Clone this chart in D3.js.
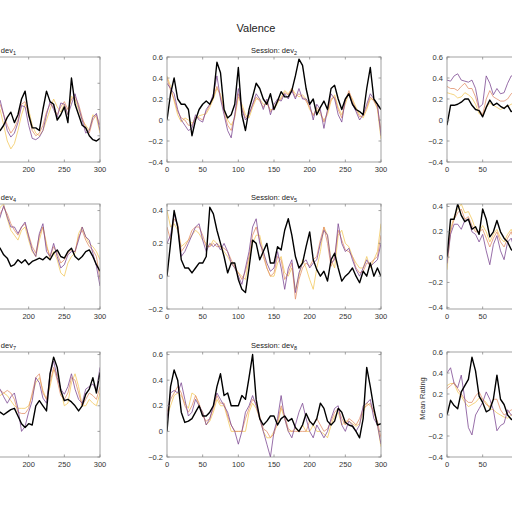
<!DOCTYPE html>
<meta charset="utf-8">
<style>
body { margin: 0; background: #fff; }
svg { font-family: "Liberation Sans", Arial, sans-serif; }
.tick-label { font-size: 7.5px; fill: #333; }
.title { font-size: 7.5px; fill: #222; }
</style>
<body>
<script src="https://d3js.org/d3.v7.min.js"></script>
<script>

// sample positions (time axis)
var xFull = [0,5,10,15,20,25,30,35,40,45,50,55,60,65,70,75,80,85,90,95,100,105,110,115,120,125,130,135,140,145,150,155,160,165,170,175,180,185,190,195,200,205,210,215,220,225,230,235,240,245,250,255,260,265,270,275,280,285,290,295,300];
var xLeft = [155,160,165,170,175,180,185,190,195,200,205,210,215,220,225,230,235,240,245,250,255,260,265,270,275,280,285,290,295,300];
var xRight = [0,5,10,15,20,25,30,35,40,45,50,55,60,65,70,75,80,85,90,95];
var xTicks = [0,50,100,150,200,250,300];

// dev1 (only right part visible)
var dev1Black = [-0.18,-0.16,-0.12,-0.06,-0.02,-0.1,-0.04,0.08,0.14,-0.04,-0.14,-0.14,-0.16,0.0,0.14,0.06,0.04,-0.08,-0.04,0.02,-0.1,0.24,0.04,-0.04,-0.12,-0.14,-0.2,-0.23,-0.24,-0.22];
var dev1Purple = [0.04,0.07,-0.04,-0.16,-0.21,-0.18,-0.1,0.03,0.02,-0.12,-0.22,-0.23,-0.21,-0.16,-0.04,0.06,0.0,-0.06,0.05,0.04,-0.04,0.04,0.12,0.02,-0.08,-0.18,-0.16,-0.06,-0.03,-0.16];
var dev1Orange = [0.08,0.04,-0.04,-0.12,-0.18,-0.14,-0.08,0.04,0.06,-0.04,-0.16,-0.2,-0.18,-0.12,-0.02,0.04,0.02,-0.04,0.02,0.06,0.0,0.08,0.1,0.04,-0.06,-0.14,-0.18,-0.08,-0.04,-0.12];
var dev1Yellow = [0.02,0.0,-0.12,-0.24,-0.3,-0.26,-0.16,-0.04,0.04,0.0,-0.12,-0.18,-0.2,-0.16,-0.08,0.0,0.08,0.02,-0.02,0.04,-0.04,0.1,0.08,0.0,-0.08,-0.12,-0.16,-0.04,-0.06,-0.18];

// dev2
var dev2Black = [0.0,0.25,0.4,0.2,0.15,0.15,0.1,-0.15,0.0,0.1,0.15,0.18,0.15,0.22,0.55,0.45,0.1,0.02,0.05,0.15,0.5,0.05,-0.1,0.1,0.22,0.35,0.3,0.2,0.15,0.25,0.1,0.18,0.27,0.22,0.22,0.28,0.42,0.58,0.52,0.3,0.15,0.2,0.05,0.12,0.18,0.1,0.3,0.33,0.2,0.1,0.2,0.25,0.15,0.1,0.08,0.05,0.3,0.5,0.2,0.15,0.1];
var dev2Purple = [0.35,0.3,0.25,0.1,0.0,-0.05,-0.1,-0.08,0.05,0.0,-0.02,0.1,0.15,0.25,0.42,0.2,0.05,-0.1,-0.17,0.05,0.3,0.1,0.0,0.05,0.15,0.25,0.2,0.1,0.2,0.05,0.15,0.2,0.18,0.25,0.2,0.28,0.2,0.3,0.2,0.2,0.15,0.0,0.15,0.1,-0.08,0.1,0.25,0.2,0.05,-0.02,0.2,0.25,0.15,0.08,0.0,0.05,0.15,0.25,0.2,0.15,-0.15];
var dev2Orange = [0.4,0.28,0.2,0.08,0.02,0.0,-0.05,-0.05,0.03,0.02,0.0,0.08,0.14,0.22,0.32,0.22,0.08,-0.05,-0.1,0.04,0.25,0.12,0.02,0.06,0.14,0.22,0.18,0.12,0.18,0.08,0.12,0.18,0.2,0.26,0.24,0.3,0.22,0.25,0.22,0.18,0.12,0.04,0.12,0.08,-0.02,0.08,0.2,0.22,0.1,0.02,0.18,0.28,0.18,0.1,0.03,0.04,0.12,0.22,0.18,0.12,-0.1];
var dev2Yellow = [0.42,0.32,0.18,0.05,-0.02,0.02,0.0,-0.03,0.0,0.04,0.05,0.06,0.12,0.2,0.3,0.25,0.1,0.0,-0.05,0.02,0.22,0.15,0.05,0.02,0.12,0.2,0.2,0.15,0.15,0.1,0.1,0.16,0.22,0.28,0.25,0.3,0.25,0.22,0.24,0.2,0.1,0.05,0.1,0.05,0.0,0.05,0.18,0.24,0.12,0.05,0.15,0.26,0.2,0.12,0.05,0.02,0.1,0.2,0.2,0.1,-0.18];

// dev3 (only left part visible)
var dev3Black = [-0.05,0.14,0.14,0.15,0.17,0.2,0.2,0.14,0.1,0.09,0.03,0.12,0.19,0.14,0.16,0.13,0.11,0.14,0.08,0.09];
var dev3Purple = [0.38,0.37,0.42,0.44,0.38,0.37,0.36,0.38,0.3,0.12,0.15,0.42,0.35,0.24,0.3,0.25,0.26,0.35,0.42,0.42];
var dev3Orange = [0.32,0.3,0.3,0.28,0.32,0.35,0.3,0.3,0.22,0.1,0.05,0.2,0.28,0.22,0.2,0.18,0.18,0.2,0.25,0.28];
var dev3Yellow = [0.26,0.25,0.24,0.21,0.22,0.26,0.24,0.21,0.15,0.06,0.05,0.12,0.16,0.14,0.12,0.1,0.12,0.13,0.15,0.16];

// dev4
var dev4Black = [0.2,0.17,0.13,0.11,0.06,0.07,0.1,0.08,0.1,0.07,0.09,0.1,0.11,0.1,0.12,0.1,0.14,0.16,0.12,0.11,0.15,0.17,0.12,0.1,0.12,0.15,0.16,0.12,0.07,0.03];
var dev4Purple = [0.3,0.36,0.43,0.36,0.3,0.3,0.26,0.3,0.33,0.24,0.16,0.12,0.26,0.32,0.15,0.12,0.2,0.12,0.05,0.07,0.13,0.15,0.15,0.22,0.3,0.24,0.22,0.14,0.06,-0.06];
var dev4Orange = [0.32,0.38,0.42,0.38,0.32,0.28,0.25,0.3,0.32,0.25,0.18,0.14,0.25,0.3,0.18,0.12,0.18,0.14,0.08,0.1,0.14,0.16,0.15,0.24,0.28,0.22,0.18,0.16,0.12,-0.02];
var dev4Yellow = [0.35,0.42,0.44,0.35,0.28,0.25,0.22,0.28,0.3,0.22,0.15,0.12,0.22,0.3,0.2,0.1,0.15,0.1,0.02,0.0,0.08,0.12,0.14,0.26,0.3,0.24,0.2,0.18,0.15,0.1];

// dev5
var dev5Black = [0.0,0.2,0.4,0.3,0.1,0.05,0.05,0.02,0.05,0.08,0.08,0.12,0.42,0.38,0.28,0.2,0.12,0.02,0.08,0.08,-0.02,-0.08,-0.1,0.05,0.22,0.2,0.1,0.15,0.2,0.08,0.08,0.18,0.16,0.28,0.35,0.25,0.12,0.05,0.08,0.18,0.27,0.1,0.04,0.0,0.03,-0.03,0.1,0.14,0.05,-0.03,0.0,0.02,0.05,0.0,-0.04,0.03,0.0,0.08,0.0,0.05,0.0];
var dev5Purple = [0.2,0.25,0.38,0.3,0.12,0.15,0.2,0.25,0.3,0.32,0.22,0.15,0.2,0.18,0.2,0.16,0.2,0.15,0.08,0.05,0.0,-0.05,0.05,0.15,0.3,0.35,0.2,0.15,0.08,0.03,0.05,0.15,0.05,-0.08,0.05,0.1,-0.1,0.02,0.08,0.1,0.05,0.08,0.1,0.2,0.28,0.25,0.08,0.1,0.32,0.2,0.15,0.17,0.1,0.04,0.0,0.05,0.1,0.06,0.08,0.1,0.2];
var dev5Orange = [0.3,0.22,0.35,0.32,0.15,0.18,0.22,0.28,0.3,0.3,0.25,0.18,0.18,0.2,0.18,0.18,0.17,0.15,0.1,0.06,0.02,-0.02,0.03,0.12,0.25,0.3,0.22,0.12,0.05,0.0,0.02,0.12,0.1,-0.02,0.02,0.08,-0.14,-0.02,0.05,0.08,0.06,0.1,0.12,0.22,0.3,0.2,0.06,0.12,0.28,0.22,0.16,0.15,0.12,0.05,0.02,0.03,0.08,0.08,0.1,0.12,0.25];
var dev5Yellow = [0.4,0.3,0.32,0.28,0.18,0.2,0.22,0.25,0.28,0.26,0.22,0.2,0.18,0.22,0.2,0.18,0.15,0.12,0.08,0.05,0.02,0.0,-0.02,0.1,0.2,0.25,0.25,0.15,0.05,0.0,0.0,0.08,0.12,0.02,0.0,0.05,-0.08,0.0,0.1,0.05,-0.02,-0.08,0.05,0.15,0.3,0.25,0.1,0.05,0.25,0.28,0.2,0.18,0.12,0.08,0.05,0.05,0.12,0.05,0.1,0.15,0.32];

// dev6 (only left part visible)
var dev6Black = [0.0,0.3,0.3,0.42,0.33,0.28,0.3,0.22,0.24,0.18,0.38,0.3,0.16,0.2,0.29,0.2,0.15,0.12,0.06,0.04];
var dev6Purple = [-0.05,0.18,0.26,0.26,0.22,0.29,0.3,0.2,0.18,0.12,0.18,0.05,-0.06,0.1,0.17,0.05,-0.02,0.12,0.15,0.05];
var dev6Orange = [0.0,0.2,0.3,0.35,0.38,0.3,0.32,0.25,0.2,0.2,0.22,0.15,0.08,0.15,0.2,0.12,0.08,0.15,0.2,0.12];
var dev6Yellow = [-0.1,0.22,0.32,0.38,0.42,0.35,0.36,0.3,0.22,0.2,0.25,0.2,0.12,0.18,0.22,0.15,0.12,0.18,0.22,0.15];

// dev7 (only right part visible)
var dev7Black = [0.14,0.15,0.13,0.15,0.17,0.18,0.12,0.06,0.03,0.06,0.05,0.2,0.24,0.2,0.16,0.45,0.58,0.5,0.32,0.24,0.25,0.23,0.2,0.16,0.2,0.29,0.33,0.42,0.3,0.46];
var dev7Purple = [0.32,0.33,0.27,0.22,0.27,0.3,0.18,0.0,0.04,0.15,0.24,0.42,0.38,0.26,0.22,0.45,0.55,0.42,0.33,0.29,0.35,0.45,0.33,0.25,0.22,0.33,0.35,0.37,0.32,0.5];
var dev7Orange = [0.3,0.32,0.3,0.32,0.3,0.25,0.15,0.14,0.14,0.18,0.3,0.42,0.45,0.3,0.25,0.38,0.5,0.4,0.28,0.25,0.3,0.42,0.4,0.3,0.2,0.25,0.3,0.28,0.25,0.35];
var dev7Yellow = [0.25,0.28,0.3,0.28,0.24,0.2,0.18,0.18,0.18,0.2,0.28,0.38,0.42,0.32,0.25,0.35,0.48,0.45,0.32,0.2,0.22,0.38,0.45,0.35,0.2,0.2,0.25,0.22,0.2,0.3];

// dev8
var dev8Black = [0.0,0.35,0.48,0.4,0.15,0.07,0.08,0.1,0.15,0.2,0.12,0.12,0.15,0.2,0.35,0.45,0.28,0.3,0.2,0.2,0.2,0.28,0.25,0.42,0.6,0.25,0.1,0.05,0.08,0.12,0.12,0.05,0.1,0.12,0.08,0.1,0.03,0.0,0.05,0.14,0.08,0.05,0.1,0.22,0.18,0.08,0.05,0.08,0.18,0.15,0.07,0.05,0.04,0.0,-0.05,0.1,0.5,0.35,0.18,0.05,0.06];
var dev8Purple = [0.1,0.3,0.32,0.3,0.38,0.25,0.12,0.15,0.25,0.2,0.15,0.05,0.1,0.2,0.3,0.25,0.2,0.15,0.05,0.0,-0.1,0.0,0.15,0.2,0.28,0.2,0.1,0.0,-0.1,-0.2,0.0,0.1,0.28,0.1,0.0,-0.05,0.05,0.15,0.22,0.1,0.0,-0.05,0.05,0.0,-0.05,0.0,0.1,0.18,0.2,0.05,0.0,0.08,0.05,0.0,0.05,0.2,0.22,0.25,0.1,0.05,-0.1];
var dev8Orange = [0.15,0.25,0.3,0.35,0.3,0.2,0.15,0.2,0.28,0.22,0.12,0.08,0.1,0.18,0.28,0.22,0.22,0.12,0.05,0.0,0.0,0.0,0.1,0.18,0.25,0.22,0.12,0.02,0.0,-0.05,-0.02,0.08,0.2,0.12,0.02,0.0,0.0,0.0,0.0,0.0,0.08,0.05,0.1,0.05,0.0,0.02,0.08,0.15,0.18,0.1,0.05,0.1,0.08,0.05,0.1,0.18,0.2,0.22,0.15,0.08,-0.05];
var dev8Yellow = [0.12,0.2,0.28,0.3,0.28,0.22,0.18,0.3,0.28,0.2,0.15,0.05,0.08,0.15,0.25,0.2,0.2,0.1,0.0,0.0,0.0,0.0,0.0,0.15,0.22,0.18,0.1,0.0,-0.05,-0.05,0.0,0.05,0.18,0.1,0.0,0.0,0.02,0.0,0.05,0.0,0.0,0.05,0.0,0.0,-0.02,-0.05,0.05,0.12,0.15,0.05,0.08,0.08,0.06,0.04,0.06,0.15,0.22,0.2,0.15,0.05,-0.12];

// dev9 (only left part visible)
var dev9Black = [0.0,0.14,0.09,0.06,0.22,0.28,0.34,0.55,0.42,0.18,0.12,0.03,0.05,0.15,0.38,0.15,0.1,0.0,-0.04,-0.06];
var dev9Purple = [0.4,0.45,0.3,0.26,0.38,0.15,-0.12,-0.19,0.0,0.06,0.12,0.22,0.15,0.05,-0.15,-0.1,-0.08,0.05,0.0,-0.02];
var dev9Orange = [0.25,0.28,0.31,0.25,0.2,0.15,0.12,0.12,0.18,0.22,0.15,0.1,0.08,0.15,0.15,0.05,0.0,0.02,0.05,0.03];
var dev9Yellow = [0.28,0.3,0.3,0.22,0.18,0.12,0.08,0.1,0.12,0.16,0.15,0.12,0.06,0.05,0.02,0.0,-0.02,-0.03,0.0,0.02];

var colors = ["#f2c95f", "#e2926c", "#7e4a93", "#000000"];
var widths = [0.8, 0.8, 0.8, 1.4];

var colX = [-114, 167, 447],
    rowY = [57, 204, 352],
    axW = 214, axH = 105;

var panels = [
  {n: "1", c: 0, r: 0, x: xLeft,  dom: [-0.4, 0.4],   yt: [-0.4,-0.2,0,0.2,0.4],      s: [dev1Yellow, dev1Orange, dev1Purple, dev1Black]},
  {n: "2", c: 1, r: 0, x: xFull,  dom: [-0.4, 0.6],   yt: [-0.4,-0.2,0,0.2,0.4,0.6],  s: [dev2Yellow, dev2Orange, dev2Purple, dev2Black]},
  {n: "3", c: 2, r: 0, x: xRight, dom: [-0.4, 0.6],   yt: [-0.4,-0.2,0,0.2,0.4,0.6],  s: [dev3Yellow, dev3Orange, dev3Purple, dev3Black]},
  {n: "4", c: 0, r: 1, x: xLeft,  dom: [-0.2, 0.44],  yt: [-0.2,0,0.2,0.4],           s: [dev4Yellow, dev4Orange, dev4Purple, dev4Black]},
  {n: "5", c: 1, r: 1, x: xFull,  dom: [-0.2, 0.44],  yt: [-0.2,0,0.2,0.4],           s: [dev5Yellow, dev5Orange, dev5Purple, dev5Black]},
  {n: "6", c: 2, r: 1, x: xRight, dom: [-0.41, 0.42], yt: [-0.4,-0.2,0,0.2,0.4],      s: [dev6Yellow, dev6Orange, dev6Purple, dev6Black]},
  {n: "7", c: 0, r: 2, x: xLeft,  dom: [-0.2, 0.62],  yt: [-0.2,0,0.2,0.4,0.6],       s: [dev7Yellow, dev7Orange, dev7Purple, dev7Black]},
  {n: "8", c: 1, r: 2, x: xFull,  dom: [-0.2, 0.62],  yt: [-0.2,0,0.2,0.4,0.6],       s: [dev8Yellow, dev8Orange, dev8Purple, dev8Black]},
  {n: "9", c: 2, r: 2, x: xRight, dom: [-0.4, 0.6],   yt: [-0.4,-0.2,0,0.2,0.4,0.6],  s: [dev9Yellow, dev9Orange, dev9Purple, dev9Black]}
];

var svg = d3.select("body").append("svg")
    .attr("width", 512)
    .attr("height", 512);

svg.append("text")
    .attr("x", 256)
    .attr("y", 32)
    .attr("text-anchor", "middle")
    .style("font-size", "11px")
    .style("fill", "#222")
    .text("Valence");

var x = d3.scaleLinear().domain([0, 300]).range([0, axW]);

// labels that land fully outside the window are skipped
function onPage(px) { return px > -4 && px < 516; }

panels.forEach(function(p, i) {
  var ox = colX[p.c];
  var g = svg.append("g")
      .attr("transform", "translate(" + ox + "," + rowY[p.r] + ")");
  var y = d3.scaleLinear().domain(p.dom).range([axH, 0]);

  g.append("clipPath").attr("id", "clip" + i)
    .append("rect").attr("width", axW).attr("height", axH);

  var line = d3.line()
      .x(function(d) { return x(d[0]); })
      .y(function(d) { return y(d[1]); });

  var plot = g.append("g").attr("clip-path", "url(#clip" + i + ")");
  p.s.forEach(function(vals, k) {
    plot.append("path")
        .datum(d3.zip(p.x, vals))
        .attr("fill", "none")
        .attr("stroke", colors[k])
        .attr("stroke-width", widths[k])
        .attr("stroke-linejoin", "round")
        .attr("d", line);
  });

  // box + inward ticks, matlab style
  g.append("rect")
      .attr("width", axW).attr("height", axH)
      .attr("fill", "none")
      .attr("stroke", "#8a8a8a")
      .attr("stroke-width", 0.8);

  var tl = 2.5;
  xTicks.forEach(function(t) {
    g.append("line").attr("x1", x(t)).attr("x2", x(t)).attr("y1", axH).attr("y2", axH - tl)
      .attr("stroke", "#8a8a8a").attr("stroke-width", 0.8);
    g.append("line").attr("x1", x(t)).attr("x2", x(t)).attr("y1", 0).attr("y2", tl)
      .attr("stroke", "#8a8a8a").attr("stroke-width", 0.8);
    if (onPage(ox + x(t))) {
      g.append("text").attr("class", "tick-label")
        .attr("x", x(t)).attr("y", axH + 10)
        .attr("text-anchor", "middle")
        .text(t);
    }
  });
  p.yt.forEach(function(t) {
    g.append("line").attr("x1", 0).attr("x2", tl).attr("y1", y(t)).attr("y2", y(t))
      .attr("stroke", "#8a8a8a").attr("stroke-width", 0.8);
    g.append("line").attr("x1", axW).attr("x2", axW - tl).attr("y1", y(t)).attr("y2", y(t))
      .attr("stroke", "#8a8a8a").attr("stroke-width", 0.8);
    if (onPage(ox - 4)) {
      g.append("text").attr("class", "tick-label")
        .attr("x", -4).attr("y", y(t))
        .attr("dy", "0.35em")
        .attr("text-anchor", "end")
        .text(t === 0 ? "0" : d3.format(".1f")(t));
    }
  });

  // panel title: the left column's is cut by the window edge, the right one's is beyond it
  var tx = ox + axW / 2;
  if (tx + 25 > 0 && tx - 25 < 512) {
    var title = g.append("text").attr("class", "title")
        .attr("x", axW / 2).attr("y", -4)
        .attr("text-anchor", "middle");
    title.append("tspan").text("Session: dev");
    title.append("tspan").attr("dy", 2).style("font-size", "5.5px").text(p.n);
  }

  if (p.n === "9") {
    g.append("text")
        .attr("transform", "translate(-22," + (axH / 2 - 6) + ") rotate(-90)")
        .attr("text-anchor", "middle")
        .style("font-size", "7.5px")
        .style("fill", "#333")
        .text("Mean Rating");
  }
});

</script>
</body>
